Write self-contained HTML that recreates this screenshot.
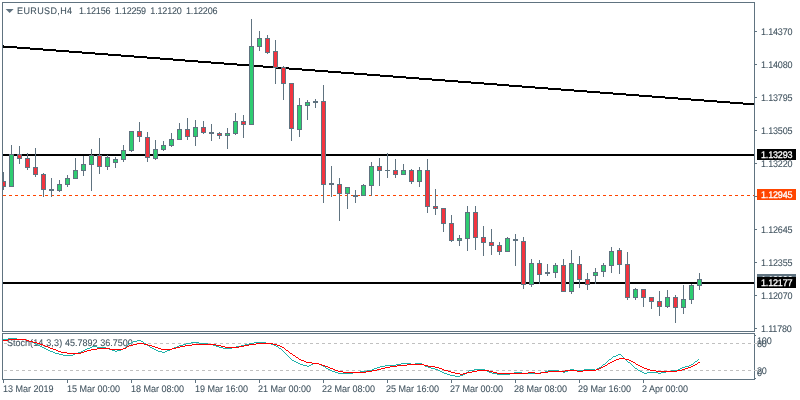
<!DOCTYPE html>
<html lang="en"><head><meta charset="utf-8"><title>EURUSD,H4</title>
<style>
html,body{margin:0;padding:0;background:#fff;}
body{width:800px;height:400px;overflow:hidden;position:relative;font-family:"Liberation Sans",sans-serif;font-size:9.6px;text-rendering:geometricPrecision;-webkit-text-stroke:0.08px #41535f;color:#41535f;}
svg{position:absolute;left:0;top:0;}
.t{position:absolute;white-space:pre;line-height:11px;height:11px;transform:scaleX(0.94);transform-origin:0 50%;}
.lbl{position:absolute;left:757px;width:39px;height:11px;line-height:11px;color:#fff;-webkit-text-stroke:0.3px #fff;white-space:pre;}
.lbl span{position:absolute;left:4px;top:1px;letter-spacing:-0.2px;transform:scaleX(0.94);transform-origin:0 50%;}
</style></head><body>
<svg width="800" height="400" viewBox="0 0 800 400" shape-rendering="crispEdges">
<rect x="2" y="2" width="753" height="1" fill="#607380"/>
<rect x="2" y="2" width="1" height="378" fill="#607380"/>
<rect x="754" y="2" width="1" height="378" fill="#607380"/>
<rect x="2" y="331" width="753" height="1" fill="#607380"/>
<rect x="2" y="333" width="753" height="1" fill="#607380"/>
<rect x="2" y="379" width="753" height="1" fill="#607380"/>
<rect x="0" y="332" width="800" height="1" fill="#fff"/>
<rect x="755" y="31" width="2" height="1" fill="#607380"/>
<rect x="755" y="64" width="2" height="1" fill="#607380"/>
<rect x="755" y="97" width="2" height="1" fill="#607380"/>
<rect x="755" y="130" width="2" height="1" fill="#607380"/>
<rect x="755" y="163" width="2" height="1" fill="#607380"/>
<rect x="755" y="196" width="2" height="1" fill="#607380"/>
<rect x="755" y="229" width="2" height="1" fill="#607380"/>
<rect x="755" y="262" width="2" height="1" fill="#607380"/>
<rect x="755" y="295" width="2" height="1" fill="#607380"/>
<rect x="755" y="328" width="2" height="1" fill="#607380"/>
<rect x="755" y="335" width="1" height="1" fill="#607380"/>
<rect x="755" y="378" width="1" height="1" fill="#607380"/>
<rect x="3" y="380" width="1" height="3" fill="#607380"/>
<rect x="67" y="380" width="1" height="3" fill="#607380"/>
<rect x="131" y="380" width="1" height="3" fill="#607380"/>
<rect x="195" y="380" width="1" height="3" fill="#607380"/>
<rect x="259" y="380" width="1" height="3" fill="#607380"/>
<rect x="323" y="380" width="1" height="3" fill="#607380"/>
<rect x="387" y="380" width="1" height="3" fill="#607380"/>
<rect x="451" y="380" width="1" height="3" fill="#607380"/>
<rect x="515" y="380" width="1" height="3" fill="#607380"/>
<rect x="579" y="380" width="1" height="3" fill="#607380"/>
<rect x="643" y="380" width="1" height="3" fill="#607380"/>
<polygon points="5.6,9 13.6,9 9.6,13" fill="#607380" shape-rendering="auto"/>
<rect x="3" y="154" width="751" height="2" fill="#000"/>
<rect x="3" y="282" width="751" height="2" fill="#000"/>
<rect x="3" y="46" width="14" height="2" fill="#000"/>
<rect x="17" y="47" width="13" height="2" fill="#000"/>
<rect x="30" y="48" width="13" height="2" fill="#000"/>
<rect x="43" y="49" width="13" height="2" fill="#000"/>
<rect x="56" y="50" width="13" height="2" fill="#000"/>
<rect x="69" y="51" width="13" height="2" fill="#000"/>
<rect x="82" y="52" width="13" height="2" fill="#000"/>
<rect x="95" y="53" width="13" height="2" fill="#000"/>
<rect x="108" y="54" width="13" height="2" fill="#000"/>
<rect x="121" y="55" width="13" height="2" fill="#000"/>
<rect x="134" y="56" width="13" height="2" fill="#000"/>
<rect x="147" y="57" width="13" height="2" fill="#000"/>
<rect x="160" y="58" width="13" height="2" fill="#000"/>
<rect x="173" y="59" width="12" height="2" fill="#000"/>
<rect x="185" y="60" width="13" height="2" fill="#000"/>
<rect x="198" y="61" width="13" height="2" fill="#000"/>
<rect x="211" y="62" width="13" height="2" fill="#000"/>
<rect x="224" y="63" width="13" height="2" fill="#000"/>
<rect x="237" y="64" width="13" height="2" fill="#000"/>
<rect x="250" y="65" width="13" height="2" fill="#000"/>
<rect x="263" y="66" width="13" height="2" fill="#000"/>
<rect x="276" y="67" width="13" height="2" fill="#000"/>
<rect x="289" y="68" width="13" height="2" fill="#000"/>
<rect x="302" y="69" width="13" height="2" fill="#000"/>
<rect x="315" y="70" width="13" height="2" fill="#000"/>
<rect x="328" y="71" width="13" height="2" fill="#000"/>
<rect x="341" y="72" width="13" height="2" fill="#000"/>
<rect x="354" y="73" width="13" height="2" fill="#000"/>
<rect x="367" y="74" width="13" height="2" fill="#000"/>
<rect x="380" y="75" width="13" height="2" fill="#000"/>
<rect x="393" y="76" width="13" height="2" fill="#000"/>
<rect x="406" y="77" width="13" height="2" fill="#000"/>
<rect x="419" y="78" width="13" height="2" fill="#000"/>
<rect x="432" y="79" width="13" height="2" fill="#000"/>
<rect x="445" y="80" width="13" height="2" fill="#000"/>
<rect x="458" y="81" width="13" height="2" fill="#000"/>
<rect x="471" y="82" width="13" height="2" fill="#000"/>
<rect x="484" y="83" width="13" height="2" fill="#000"/>
<rect x="497" y="84" width="12" height="2" fill="#000"/>
<rect x="509" y="85" width="13" height="2" fill="#000"/>
<rect x="522" y="86" width="13" height="2" fill="#000"/>
<rect x="535" y="87" width="13" height="2" fill="#000"/>
<rect x="548" y="88" width="13" height="2" fill="#000"/>
<rect x="561" y="89" width="13" height="2" fill="#000"/>
<rect x="574" y="90" width="13" height="2" fill="#000"/>
<rect x="587" y="91" width="13" height="2" fill="#000"/>
<rect x="600" y="92" width="13" height="2" fill="#000"/>
<rect x="613" y="93" width="13" height="2" fill="#000"/>
<rect x="626" y="94" width="13" height="2" fill="#000"/>
<rect x="639" y="95" width="13" height="2" fill="#000"/>
<rect x="652" y="96" width="13" height="2" fill="#000"/>
<rect x="665" y="97" width="13" height="2" fill="#000"/>
<rect x="678" y="98" width="13" height="2" fill="#000"/>
<rect x="691" y="99" width="13" height="2" fill="#000"/>
<rect x="704" y="100" width="13" height="2" fill="#000"/>
<rect x="717" y="101" width="13" height="2" fill="#000"/>
<rect x="730" y="102" width="13" height="2" fill="#000"/>
<rect x="743" y="103" width="11" height="2" fill="#000"/>
<rect x="3" y="45" width="1" height="2" fill="#000"/>
<line x1="3" y1="195.5" x2="754" y2="195.5" stroke="#ff4500" stroke-width="1" stroke-dasharray="3 3"/>
<rect x="3" y="172" width="1" height="18" fill="#607380"/>
<rect x="1.5" y="181.5" width="4" height="5" fill="#f2343f" stroke="#607380" stroke-width="1"/>
<rect x="11" y="145" width="1" height="42" fill="#607380"/>
<rect x="9.5" y="154.5" width="4" height="32" fill="#2ecc71" stroke="#607380" stroke-width="1"/>
<rect x="19" y="146" width="1" height="18" fill="#607380"/>
<rect x="17.5" y="154.5" width="4" height="4" fill="#f2343f" stroke="#607380" stroke-width="1"/>
<rect x="27" y="153" width="1" height="17" fill="#607380"/>
<rect x="25.5" y="158.5" width="4" height="9" fill="#f2343f" stroke="#607380" stroke-width="1"/>
<rect x="35" y="148" width="1" height="29" fill="#607380"/>
<rect x="33.5" y="167.5" width="4" height="7" fill="#f2343f" stroke="#607380" stroke-width="1"/>
<rect x="43" y="173" width="1" height="24" fill="#607380"/>
<rect x="41.5" y="174.5" width="4" height="15" fill="#f2343f" stroke="#607380" stroke-width="1"/>
<rect x="51" y="178" width="1" height="19" fill="#607380"/>
<rect x="49" y="189" width="5" height="2" fill="#607380"/>
<rect x="59" y="180" width="1" height="12" fill="#607380"/>
<rect x="57.5" y="184.5" width="4" height="6" fill="#2ecc71" stroke="#607380" stroke-width="1"/>
<rect x="67" y="175" width="1" height="12" fill="#607380"/>
<rect x="65.5" y="178.5" width="4" height="6" fill="#2ecc71" stroke="#607380" stroke-width="1"/>
<rect x="75" y="158" width="1" height="21" fill="#607380"/>
<rect x="73.5" y="170.5" width="4" height="8" fill="#2ecc71" stroke="#607380" stroke-width="1"/>
<rect x="83" y="156" width="1" height="20" fill="#607380"/>
<rect x="81.5" y="164.5" width="4" height="6" fill="#2ecc71" stroke="#607380" stroke-width="1"/>
<rect x="91" y="149" width="1" height="42" fill="#607380"/>
<rect x="89.5" y="155.5" width="4" height="9" fill="#2ecc71" stroke="#607380" stroke-width="1"/>
<rect x="99" y="138" width="1" height="36" fill="#607380"/>
<rect x="97.5" y="155.5" width="4" height="11" fill="#f2343f" stroke="#607380" stroke-width="1"/>
<rect x="107" y="155" width="1" height="15" fill="#607380"/>
<rect x="105.5" y="157.5" width="4" height="9" fill="#2ecc71" stroke="#607380" stroke-width="1"/>
<rect x="115" y="157" width="1" height="11" fill="#607380"/>
<rect x="113.5" y="159.5" width="4" height="3" fill="#2ecc71" stroke="#607380" stroke-width="1"/>
<rect x="123" y="145" width="1" height="17" fill="#607380"/>
<rect x="121.5" y="150.5" width="4" height="9" fill="#2ecc71" stroke="#607380" stroke-width="1"/>
<rect x="131" y="131" width="1" height="21" fill="#607380"/>
<rect x="129.5" y="131.5" width="4" height="19" fill="#2ecc71" stroke="#607380" stroke-width="1"/>
<rect x="139" y="122" width="1" height="20" fill="#607380"/>
<rect x="137.5" y="131.5" width="4" height="5" fill="#f2343f" stroke="#607380" stroke-width="1"/>
<rect x="147" y="132" width="1" height="30" fill="#607380"/>
<rect x="145.5" y="137.5" width="4" height="20" fill="#f2343f" stroke="#607380" stroke-width="1"/>
<rect x="155" y="140" width="1" height="20" fill="#607380"/>
<rect x="153.5" y="149.5" width="4" height="9" fill="#2ecc71" stroke="#607380" stroke-width="1"/>
<rect x="163" y="141" width="1" height="10" fill="#607380"/>
<rect x="161.5" y="145.5" width="4" height="4" fill="#2ecc71" stroke="#607380" stroke-width="1"/>
<rect x="171" y="133" width="1" height="14" fill="#607380"/>
<rect x="169.5" y="139.5" width="4" height="6" fill="#2ecc71" stroke="#607380" stroke-width="1"/>
<rect x="179" y="123" width="1" height="17" fill="#607380"/>
<rect x="177.5" y="129.5" width="4" height="10" fill="#2ecc71" stroke="#607380" stroke-width="1"/>
<rect x="187" y="118" width="1" height="22" fill="#607380"/>
<rect x="185.5" y="129.5" width="4" height="7" fill="#f2343f" stroke="#607380" stroke-width="1"/>
<rect x="195" y="120" width="1" height="26" fill="#607380"/>
<rect x="193.5" y="127.5" width="4" height="9" fill="#2ecc71" stroke="#607380" stroke-width="1"/>
<rect x="203" y="121" width="1" height="13" fill="#607380"/>
<rect x="201.5" y="127.5" width="4" height="5" fill="#f2343f" stroke="#607380" stroke-width="1"/>
<rect x="211" y="124" width="1" height="17" fill="#607380"/>
<rect x="209" y="132" width="5" height="2" fill="#607380"/>
<rect x="219" y="132" width="1" height="7" fill="#607380"/>
<rect x="217.5" y="133.5" width="4" height="2" fill="#f2343f" stroke="#607380" stroke-width="1"/>
<rect x="227" y="128" width="1" height="21" fill="#607380"/>
<rect x="225.5" y="133.5" width="4" height="2" fill="#2ecc71" stroke="#607380" stroke-width="1"/>
<rect x="235" y="113" width="1" height="22" fill="#607380"/>
<rect x="233.5" y="121.5" width="4" height="12" fill="#2ecc71" stroke="#607380" stroke-width="1"/>
<rect x="243" y="115" width="1" height="23" fill="#607380"/>
<rect x="241.5" y="121.5" width="4" height="3" fill="#f2343f" stroke="#607380" stroke-width="1"/>
<rect x="251" y="19" width="1" height="106" fill="#607380"/>
<rect x="249.5" y="46.5" width="4" height="78" fill="#2ecc71" stroke="#607380" stroke-width="1"/>
<rect x="259" y="31" width="1" height="20" fill="#607380"/>
<rect x="257.5" y="38.5" width="4" height="8" fill="#2ecc71" stroke="#607380" stroke-width="1"/>
<rect x="267" y="35" width="1" height="19" fill="#607380"/>
<rect x="265.5" y="38.5" width="4" height="14" fill="#f2343f" stroke="#607380" stroke-width="1"/>
<rect x="275" y="40" width="1" height="44" fill="#607380"/>
<rect x="273.5" y="51.5" width="4" height="16" fill="#f2343f" stroke="#607380" stroke-width="1"/>
<rect x="283" y="66" width="1" height="34" fill="#607380"/>
<rect x="281.5" y="67.5" width="4" height="16" fill="#f2343f" stroke="#607380" stroke-width="1"/>
<rect x="291" y="83" width="1" height="58" fill="#607380"/>
<rect x="289.5" y="83.5" width="4" height="45" fill="#f2343f" stroke="#607380" stroke-width="1"/>
<rect x="299" y="98" width="1" height="39" fill="#607380"/>
<rect x="297.5" y="105.5" width="4" height="24" fill="#2ecc71" stroke="#607380" stroke-width="1"/>
<rect x="307" y="100" width="1" height="20" fill="#607380"/>
<rect x="305.5" y="102.5" width="4" height="3" fill="#2ecc71" stroke="#607380" stroke-width="1"/>
<rect x="315" y="99" width="1" height="9" fill="#607380"/>
<rect x="313" y="101" width="5" height="2" fill="#607380"/>
<rect x="323" y="85" width="1" height="118" fill="#607380"/>
<rect x="321.5" y="101.5" width="4" height="83" fill="#f2343f" stroke="#607380" stroke-width="1"/>
<rect x="331" y="166" width="1" height="31" fill="#607380"/>
<rect x="329" y="183" width="5" height="2" fill="#607380"/>
<rect x="339" y="178" width="1" height="43" fill="#607380"/>
<rect x="337.5" y="184.5" width="4" height="9" fill="#f2343f" stroke="#607380" stroke-width="1"/>
<rect x="347" y="187" width="1" height="22" fill="#607380"/>
<rect x="345.5" y="187.5" width="4" height="6" fill="#2ecc71" stroke="#607380" stroke-width="1"/>
<rect x="355" y="190" width="1" height="13" fill="#607380"/>
<rect x="353" y="195" width="5" height="2" fill="#607380"/>
<rect x="363" y="184" width="1" height="12" fill="#607380"/>
<rect x="361.5" y="185.5" width="4" height="10" fill="#2ecc71" stroke="#607380" stroke-width="1"/>
<rect x="371" y="162" width="1" height="34" fill="#607380"/>
<rect x="369.5" y="166.5" width="4" height="19" fill="#2ecc71" stroke="#607380" stroke-width="1"/>
<rect x="379" y="158" width="1" height="28" fill="#607380"/>
<rect x="377.5" y="166.5" width="4" height="4" fill="#f2343f" stroke="#607380" stroke-width="1"/>
<rect x="387" y="153" width="1" height="25" fill="#607380"/>
<rect x="385" y="170" width="5" height="1" fill="#607380"/>
<rect x="395" y="159" width="1" height="19" fill="#607380"/>
<rect x="393.5" y="170.5" width="4" height="4" fill="#f2343f" stroke="#607380" stroke-width="1"/>
<rect x="403" y="164" width="1" height="11" fill="#607380"/>
<rect x="401.5" y="170.5" width="4" height="4" fill="#2ecc71" stroke="#607380" stroke-width="1"/>
<rect x="411" y="169" width="1" height="15" fill="#607380"/>
<rect x="409.5" y="170.5" width="4" height="11" fill="#f2343f" stroke="#607380" stroke-width="1"/>
<rect x="419" y="167" width="1" height="20" fill="#607380"/>
<rect x="417.5" y="170.5" width="4" height="11" fill="#2ecc71" stroke="#607380" stroke-width="1"/>
<rect x="427" y="159" width="1" height="54" fill="#607380"/>
<rect x="425.5" y="170.5" width="4" height="36" fill="#f2343f" stroke="#607380" stroke-width="1"/>
<rect x="435" y="189" width="1" height="26" fill="#607380"/>
<rect x="433.5" y="206.5" width="4" height="2" fill="#f2343f" stroke="#607380" stroke-width="1"/>
<rect x="443" y="208" width="1" height="24" fill="#607380"/>
<rect x="441.5" y="208.5" width="4" height="15" fill="#f2343f" stroke="#607380" stroke-width="1"/>
<rect x="451" y="215" width="1" height="27" fill="#607380"/>
<rect x="449.5" y="223.5" width="4" height="17" fill="#f2343f" stroke="#607380" stroke-width="1"/>
<rect x="459" y="235" width="1" height="11" fill="#607380"/>
<rect x="457.5" y="238.5" width="4" height="2" fill="#2ecc71" stroke="#607380" stroke-width="1"/>
<rect x="467" y="206" width="1" height="45" fill="#607380"/>
<rect x="465.5" y="212.5" width="4" height="26" fill="#2ecc71" stroke="#607380" stroke-width="1"/>
<rect x="475" y="206" width="1" height="44" fill="#607380"/>
<rect x="473.5" y="212.5" width="4" height="25" fill="#f2343f" stroke="#607380" stroke-width="1"/>
<rect x="483" y="226" width="1" height="30" fill="#607380"/>
<rect x="481.5" y="237.5" width="4" height="5" fill="#f2343f" stroke="#607380" stroke-width="1"/>
<rect x="491" y="229" width="1" height="26" fill="#607380"/>
<rect x="489.5" y="242.5" width="4" height="3" fill="#f2343f" stroke="#607380" stroke-width="1"/>
<rect x="499" y="242" width="1" height="13" fill="#607380"/>
<rect x="497.5" y="245.5" width="4" height="6" fill="#f2343f" stroke="#607380" stroke-width="1"/>
<rect x="507" y="237" width="1" height="15" fill="#607380"/>
<rect x="505.5" y="238.5" width="4" height="13" fill="#2ecc71" stroke="#607380" stroke-width="1"/>
<rect x="515" y="234" width="1" height="32" fill="#607380"/>
<rect x="513" y="239" width="5" height="2" fill="#607380"/>
<rect x="523" y="237" width="1" height="52" fill="#607380"/>
<rect x="521.5" y="241.5" width="4" height="43" fill="#f2343f" stroke="#607380" stroke-width="1"/>
<rect x="531" y="259" width="1" height="28" fill="#607380"/>
<rect x="529.5" y="263.5" width="4" height="21" fill="#2ecc71" stroke="#607380" stroke-width="1"/>
<rect x="539" y="260" width="1" height="24" fill="#607380"/>
<rect x="537.5" y="263.5" width="4" height="11" fill="#f2343f" stroke="#607380" stroke-width="1"/>
<rect x="547" y="264" width="1" height="12" fill="#607380"/>
<rect x="545" y="272" width="5" height="2" fill="#607380"/>
<rect x="555" y="263" width="1" height="15" fill="#607380"/>
<rect x="553.5" y="265.5" width="4" height="7" fill="#2ecc71" stroke="#607380" stroke-width="1"/>
<rect x="563" y="259" width="1" height="33" fill="#607380"/>
<rect x="561.5" y="265.5" width="4" height="26" fill="#f2343f" stroke="#607380" stroke-width="1"/>
<rect x="571" y="250" width="1" height="44" fill="#607380"/>
<rect x="569.5" y="263.5" width="4" height="28" fill="#2ecc71" stroke="#607380" stroke-width="1"/>
<rect x="579" y="256" width="1" height="32" fill="#607380"/>
<rect x="577.5" y="264.5" width="4" height="15" fill="#f2343f" stroke="#607380" stroke-width="1"/>
<rect x="587" y="273" width="1" height="17" fill="#607380"/>
<rect x="585.5" y="279.5" width="4" height="5" fill="#f2343f" stroke="#607380" stroke-width="1"/>
<rect x="595" y="268" width="1" height="16" fill="#607380"/>
<rect x="593.5" y="272.5" width="4" height="3" fill="#2ecc71" stroke="#607380" stroke-width="1"/>
<rect x="603" y="263" width="1" height="14" fill="#607380"/>
<rect x="601.5" y="265.5" width="4" height="6" fill="#2ecc71" stroke="#607380" stroke-width="1"/>
<rect x="611" y="247" width="1" height="26" fill="#607380"/>
<rect x="609.5" y="251.5" width="4" height="14" fill="#2ecc71" stroke="#607380" stroke-width="1"/>
<rect x="619" y="248" width="1" height="26" fill="#607380"/>
<rect x="617.5" y="250.5" width="4" height="14" fill="#f2343f" stroke="#607380" stroke-width="1"/>
<rect x="627" y="252" width="1" height="48" fill="#607380"/>
<rect x="625.5" y="264.5" width="4" height="33" fill="#f2343f" stroke="#607380" stroke-width="1"/>
<rect x="635" y="288" width="1" height="12" fill="#607380"/>
<rect x="633.5" y="289.5" width="4" height="8" fill="#2ecc71" stroke="#607380" stroke-width="1"/>
<rect x="643" y="289" width="1" height="18" fill="#607380"/>
<rect x="641.5" y="289.5" width="4" height="8" fill="#f2343f" stroke="#607380" stroke-width="1"/>
<rect x="651" y="297" width="1" height="12" fill="#607380"/>
<rect x="649.5" y="297.5" width="4" height="4" fill="#f2343f" stroke="#607380" stroke-width="1"/>
<rect x="659" y="291" width="1" height="25" fill="#607380"/>
<rect x="657.5" y="301.5" width="4" height="5" fill="#f2343f" stroke="#607380" stroke-width="1"/>
<rect x="667" y="290" width="1" height="18" fill="#607380"/>
<rect x="665.5" y="297.5" width="4" height="9" fill="#2ecc71" stroke="#607380" stroke-width="1"/>
<rect x="675" y="295" width="1" height="28" fill="#607380"/>
<rect x="673.5" y="297.5" width="4" height="10" fill="#f2343f" stroke="#607380" stroke-width="1"/>
<rect x="683" y="285" width="1" height="29" fill="#607380"/>
<rect x="681.5" y="299.5" width="4" height="8" fill="#2ecc71" stroke="#607380" stroke-width="1"/>
<rect x="691" y="284" width="1" height="20" fill="#607380"/>
<rect x="689.5" y="285.5" width="4" height="14" fill="#2ecc71" stroke="#607380" stroke-width="1"/>
<rect x="699" y="273" width="1" height="17" fill="#607380"/>
<rect x="697.5" y="279.5" width="4" height="6" fill="#2ecc71" stroke="#607380" stroke-width="1"/>
<rect x="0" y="160" width="2" height="40" fill="#fff"/>
<rect x="2" y="160" width="1" height="40" fill="#607380"/>
<line x1="4" y1="343.5" x2="757" y2="343.5" stroke="#c0c0c0" stroke-width="1" stroke-dasharray="3 3"/>
<line x1="4" y1="370.5" x2="757" y2="370.5" stroke="#c0c0c0" stroke-width="1" stroke-dasharray="3 3"/>
</svg>
<div class="t" style="left:17.3px;top:6px;letter-spacing:0.4px;">EURUSD,H4</div>
<div class="t" style="left:79px;top:6px;word-spacing:2.2px;letter-spacing:-0.2px;">1.12156 1.12259 1.12120 1.12206</div>
<div class="t" style="left:761px;top:27px;letter-spacing:-0.2px;">1.14370</div>
<div class="t" style="left:761px;top:60px;letter-spacing:-0.2px;">1.14080</div>
<div class="t" style="left:761px;top:93px;letter-spacing:-0.2px;">1.13795</div>
<div class="t" style="left:761px;top:126px;letter-spacing:-0.2px;">1.13505</div>
<div class="t" style="left:761px;top:159px;letter-spacing:-0.2px;">1.13220</div>
<div class="t" style="left:761px;top:225px;letter-spacing:-0.2px;">1.12645</div>
<div class="t" style="left:761px;top:258px;letter-spacing:-0.2px;">1.12355</div>
<div class="t" style="left:761px;top:291px;letter-spacing:-0.2px;">1.12070</div>
<div class="t" style="left:761px;top:324px;letter-spacing:-0.2px;">1.11780</div>
<div class="t" style="left:2.8px;top:384px;">13 Mar 2019</div>
<div class="t" style="left:66.8px;top:384px;">15 Mar 00:00</div>
<div class="t" style="left:130.8px;top:384px;">18 Mar 08:00</div>
<div class="t" style="left:194.8px;top:384px;">19 Mar 16:00</div>
<div class="t" style="left:257.6px;top:384px;">21 Mar 00:00</div>
<div class="t" style="left:321.6px;top:384px;">22 Mar 08:00</div>
<div class="t" style="left:385.6px;top:384px;">25 Mar 16:00</div>
<div class="t" style="left:449.6px;top:384px;">27 Mar 00:00</div>
<div class="t" style="left:513.5999999999999px;top:384px;">28 Mar 08:00</div>
<div class="t" style="left:577.5999999999999px;top:384px;">29 Mar 16:00</div>
<div class="t" style="left:641.5999999999999px;top:384px;">2 Apr 00:00</div>
<div class="lbl" style="top:149px;background:#000"><span>1.13293</span></div>
<div class="lbl" style="top:189px;background:#ff4500"><span>1.12945</span></div>
<div class="lbl" style="top:274px;background:#607380"><span>1.12206</span></div>
<div class="lbl" style="top:277px;background:#000"><span>1.12177</span></div>
<div class="t" style="left:757.4px;top:336.4px;letter-spacing:-0.2px;">100</div>
<div class="t" style="left:757px;top:339.4px;letter-spacing:-0.2px;">80</div>
<div class="t" style="left:757px;top:366.4px;letter-spacing:-0.2px;">20</div>
<div class="t" style="left:757px;top:368.4px;">0</div>
<div class="t" style="left:6.6px;top:338px;background:#fff;word-spacing:0.2px;">Stoch<span style="letter-spacing:0.15px">(14,3,3)</span> 45.7892 36.7500</div>
<svg width="800" height="400" viewBox="0 0 800 400" shape-rendering="crispEdges">
<path fill="#20b2aa" d="M3 339h5v1h-5zM8 338h9v1h-9zM17 339h9v1h-9zM26 340h3v1h-3zM29 341h3v1h-3zM32 342h2v1h-2zM34 343h2v1h-2zM36 344h2v1h-2zM38 345h2v1h-2zM40 346h2v1h-2zM42 347h2v1h-2zM44 348h2v1h-2zM46 349h2v1h-2zM48 350h2v1h-2zM50 351h3v1h-3zM53 352h2v1h-2zM55 353h4v1h-4zM59 354h4v1h-4zM63 355h10v1h-10zM73 354h2v1h-2zM75 353h3v1h-3zM78 352h3v1h-3zM81 351h2v1h-2zM83 350h2v1h-2zM85 349h2v1h-2zM87 348h3v1h-3zM90 347h2v1h-2zM92 346h5v1h-5zM97 347h9v1h-9zM106 348h3v1h-3zM109 349h3v1h-3zM112 350h3v1h-3zM115 351h2v1h-2zM117 350h4v1h-4zM121 349h2v1h-2zM123 348h2v1h-2zM125 347h1v1h-1zM126 346h1v1h-1zM127 345h1v1h-1zM128 344h1v1h-1zM129 343h2v1h-2zM131 342h2v1h-2zM133 341h4v1h-4zM137 340h4v1h-4zM141 341h2v1h-2zM143 342h1v1h-1zM144 343h2v1h-2zM146 344h1v1h-1zM147 345h2v1h-2zM149 346h1v1h-1zM150 347h2v1h-2zM152 348h2v1h-2zM154 349h2v1h-2zM156 350h2v1h-2zM158 351h4v1h-4zM162 352h3v1h-3zM165 351h2v1h-2zM167 350h3v1h-3zM170 349h2v1h-2zM172 348h2v1h-2zM174 347h3v1h-3zM177 346h2v1h-2zM179 345h4v1h-4zM183 344h3v1h-3zM186 343h5v1h-5zM191 342h8v1h-8zM199 343h9v1h-9zM208 344h5v1h-5zM213 345h3v1h-3zM216 346h3v1h-3zM219 347h4v1h-4zM223 348h9v1h-9zM232 347h4v1h-4zM236 346h5v1h-5zM241 345h4v1h-4zM245 344h4v1h-4zM249 343h5v1h-5zM254 342h12v1h-12zM266 343h5v1h-5zM271 344h3v1h-3zM274 345h2v1h-2zM276 346h2v1h-2zM278 347h1v1h-1zM279 348h2v1h-2zM281 349h1v1h-1zM282 350h1v1h-1zM283 351h1v1h-1zM284 352h1v1h-1zM285 353h1v1h-1zM286 354h1v1h-1zM287 355h1v1h-1zM288 356h1v1h-1zM289 357h1v1h-1zM290 358h1v1h-1zM291 359h1v1h-1zM292 360h2v1h-2zM294 361h2v1h-2zM296 362h2v1h-2zM298 363h2v1h-2zM300 364h3v1h-3zM303 365h4v1h-4zM307 366h2v1h-2zM309 365h2v1h-2zM311 364h2v1h-2zM313 363h6v1h-6zM319 364h2v1h-2zM321 365h2v1h-2zM323 366h2v1h-2zM325 367h1v1h-1zM326 368h2v1h-2zM328 369h2v1h-2zM330 370h2v1h-2zM332 371h3v1h-3zM335 372h3v1h-3zM338 373h15v1h-15zM353 372h7v1h-7zM360 371h7v1h-7zM367 370h5v1h-5zM372 369h2v1h-2zM374 368h3v1h-3zM377 367h3v1h-3zM380 366h5v1h-5zM385 365h11v1h-11zM396 364h5v1h-5zM401 363h10v1h-10zM411 364h4v1h-4zM415 363h7v1h-7zM422 364h2v1h-2zM424 365h1v1h-1zM425 366h3v1h-3zM428 367h3v1h-3zM431 368h4v1h-4zM435 369h3v1h-3zM438 370h2v1h-2zM440 371h2v1h-2zM442 372h2v1h-2zM444 373h3v1h-3zM447 374h3v1h-3zM450 375h5v1h-5zM455 376h5v1h-5zM460 375h3v1h-3zM463 374h2v1h-2zM465 373h1v1h-1zM466 372h2v1h-2zM468 371h1v1h-1zM469 370h5v1h-5zM474 369h11v1h-11zM485 370h2v1h-2zM487 371h2v1h-2zM489 372h3v1h-3zM492 373h5v1h-5zM497 374h13v1h-13zM510 373h4v1h-4zM514 372h8v1h-8zM522 373h18v1h-18zM540 372h5v1h-5zM545 371h3v1h-3zM548 370h11v1h-11zM559 371h4v1h-4zM563 372h2v1h-2zM565 371h3v1h-3zM568 370h2v1h-2zM570 369h4v1h-4zM574 370h10v1h-10zM584 369h11v1h-11zM595 370h1v1h-1zM596 369h1v1h-1zM597 368h2v1h-2zM599 367h2v1h-2zM601 366h1v1h-1zM602 365h1v1h-1zM603 364h2v1h-2zM605 363h1v1h-1zM606 362h1v1h-1zM607 361h1v1h-1zM608 360h1v1h-1zM609 359h2v1h-2zM611 358h1v1h-1zM612 357h1v1h-1zM613 356h3v1h-3zM616 355h2v1h-2zM618 354h3v1h-3zM621 355h1v1h-1zM622 356h1v1h-1zM623 357h1v1h-1zM624 358h1v1h-1zM625 359h1v1h-1zM626 360h1v1h-1zM627 361h1v1h-1zM628 362h2v1h-2zM630 363h1v1h-1zM631 364h1v1h-1zM632 365h1v1h-1zM633 366h1v1h-1zM634 367h1v1h-1zM635 368h2v1h-2zM637 369h1v1h-1zM638 370h2v1h-2zM640 371h2v1h-2zM642 372h2v1h-2zM644 373h3v1h-3zM647 372h11v1h-11zM658 373h3v1h-3zM661 372h5v1h-5zM666 371h5v1h-5zM671 370h7v1h-7zM678 369h2v1h-2zM680 368h2v1h-2zM682 367h3v1h-3zM685 366h4v1h-4zM689 365h2v1h-2zM691 364h2v1h-2zM693 363h1v1h-1zM694 362h1v1h-1zM695 361h2v1h-2zM697 360h1v1h-1zM698 359h1v1h-1z"/>
<path fill="#ff0000" d="M3 340h5v1h-5zM8 339h18v1h-18zM26 340h3v1h-3zM29 341h4v1h-4zM33 342h4v1h-4zM37 343h3v1h-3zM40 344h3v1h-3zM43 345h2v1h-2zM45 346h3v1h-3zM48 347h2v1h-2zM50 348h3v1h-3zM53 349h3v1h-3zM56 350h2v1h-2zM58 351h3v1h-3zM61 352h6v1h-6zM67 353h14v1h-14zM81 352h3v1h-3zM84 351h3v1h-3zM87 350h4v1h-4zM91 349h6v1h-6zM97 348h13v1h-13zM110 349h13v1h-13zM123 348h3v1h-3zM126 347h1v1h-1zM127 346h2v1h-2zM129 345h4v1h-4zM133 344h4v1h-4zM137 343h7v1h-7zM144 344h4v1h-4zM148 345h4v1h-4zM152 346h3v1h-3zM155 347h3v1h-3zM158 348h3v1h-3zM161 349h11v1h-11zM172 348h4v1h-4zM176 347h4v1h-4zM180 346h5v1h-5zM185 345h7v1h-7zM192 344h24v1h-24zM216 345h5v1h-5zM221 346h4v1h-4zM225 347h14v1h-14zM239 346h5v1h-5zM244 345h5v1h-5zM249 344h7v1h-7zM256 343h17v1h-17zM273 344h4v1h-4zM277 345h3v1h-3zM280 346h2v1h-2zM282 347h2v1h-2zM284 348h1v1h-1zM285 349h1v1h-1zM286 350h2v1h-2zM288 351h1v1h-1zM289 352h1v1h-1zM290 353h2v1h-2zM292 354h1v1h-1zM293 355h2v1h-2zM295 356h1v1h-1zM296 357h2v1h-2zM298 358h1v1h-1zM299 359h2v1h-2zM301 360h3v1h-3zM304 361h2v1h-2zM306 362h6v1h-6zM312 363h7v1h-7zM319 364h3v1h-3zM322 365h3v1h-3zM325 366h3v1h-3zM328 367h2v1h-2zM330 368h3v1h-3zM333 369h2v1h-2zM335 370h3v1h-3zM338 371h5v1h-5zM343 372h23v1h-23zM366 371h6v1h-6zM372 370h5v1h-5zM377 369h4v1h-4zM381 368h4v1h-4zM385 367h5v1h-5zM390 366h7v1h-7zM397 365h10v1h-10zM407 364h17v1h-17zM424 365h4v1h-4zM428 366h7v1h-7zM435 367h4v1h-4zM439 368h3v1h-3zM442 369h2v1h-2zM444 370h4v1h-4zM448 371h3v1h-3zM451 372h4v1h-4zM455 373h5v1h-5zM460 374h3v1h-3zM463 373h4v1h-4zM467 372h5v1h-5zM472 371h5v1h-5zM477 370h12v1h-12zM489 371h4v1h-4zM493 372h4v1h-4zM497 373h31v1h-31zM528 372h7v1h-7zM535 373h6v1h-6zM541 372h7v1h-7zM548 371h17v1h-17zM565 370h12v1h-12zM577 371h6v1h-6zM583 370h13v1h-13zM596 369h3v1h-3zM599 368h2v1h-2zM601 367h2v1h-2zM603 366h2v1h-2zM605 365h2v1h-2zM607 364h1v1h-1zM608 363h2v1h-2zM610 362h2v1h-2zM612 361h2v1h-2zM614 360h2v1h-2zM616 359h3v1h-3zM619 358h6v1h-6zM625 359h4v1h-4zM629 360h2v1h-2zM631 361h2v1h-2zM633 362h2v1h-2zM635 363h1v1h-1zM636 364h2v1h-2zM638 365h2v1h-2zM640 366h2v1h-2zM642 367h2v1h-2zM644 368h3v1h-3zM647 369h3v1h-3zM650 370h6v1h-6zM656 371h21v1h-21zM677 370h5v1h-5zM682 369h3v1h-3zM685 368h3v1h-3zM688 367h3v1h-3zM691 366h2v1h-2zM693 365h2v1h-2zM695 364h2v1h-2zM697 363h1v1h-1zM698 362h2v1h-2z"/>
</svg>
</body></html>
